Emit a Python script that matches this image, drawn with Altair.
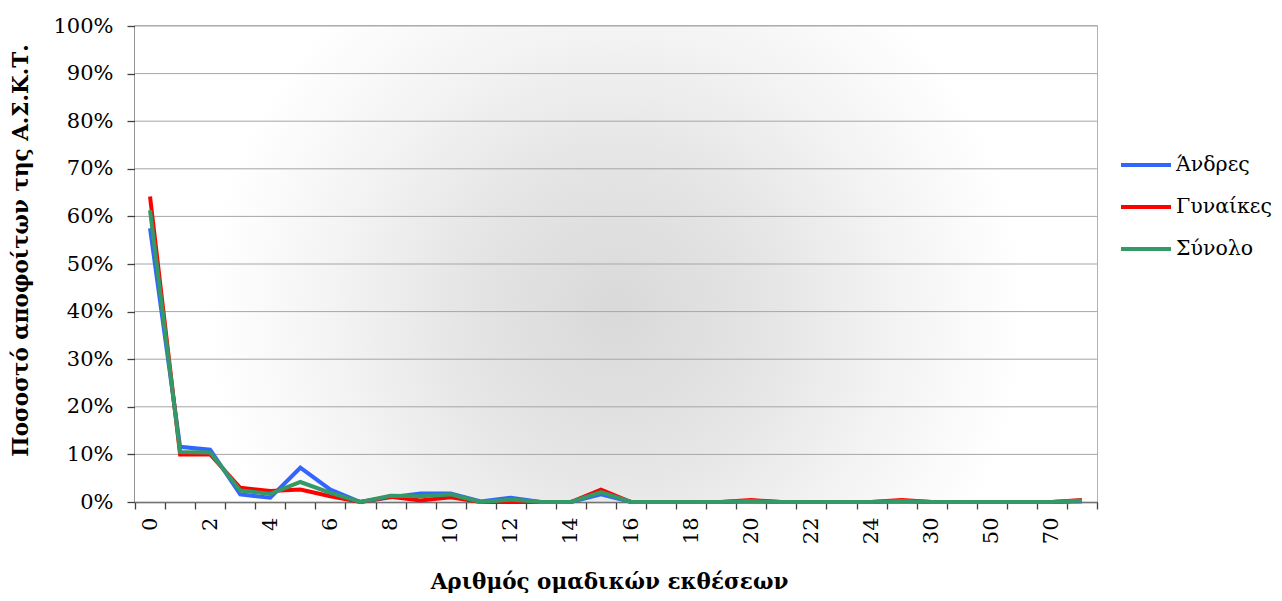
import altair as alt
import pandas as pd

# ---- data ----
categories = ["0", "1", "2", "3", "4", "5", "6", "7", "8", "9", "10", "11", "12",
              "13", "14", "15", "16", "17", "18", "19", "20", "21", "22", "23", "24",
              "25", "30", "40", "50", "60", "70", "80"]
shown_labels = ["0", "2", "4", "6", "8", "10", "12", "14", "16", "18", "20", "22",
                "24", "30", "50", "70"]
series_names = ["Άνδρες", "Γυναίκες", "Σύνολο"]
series_colors = ["#3366ff", "#ff0000", "#339966"]

men = [57.5, 11.6, 11.0, 1.6, 0.9, 7.2, 2.6, 0.0, 1.0, 1.8, 1.8, 0.1, 0.9, 0.0, 0.0, 1.6,
       0.0, 0.0, 0.0, 0.0, 0.1, 0.0, 0.0, 0.0, 0.0, 0.1, 0.0, 0.0, 0.0, 0.0, 0.0, 0.1]
women = [64.2, 10.0, 10.0, 3.0, 2.3, 2.6, 1.2, 0.0, 1.1, 0.3, 1.0, 0.0, 0.0, 0.0, 0.0, 2.6,
         0.0, 0.0, 0.0, 0.0, 0.4, 0.0, 0.0, 0.0, 0.0, 0.4, 0.0, 0.0, 0.0, 0.0, 0.0, 0.4]
total = [61.3, 10.5, 10.4, 2.4, 1.7, 4.2, 1.9, 0.0, 1.3, 1.2, 1.6, 0.0, 0.5, 0.0, 0.0, 2.1,
         0.0, 0.0, 0.0, 0.0, 0.2, 0.0, 0.0, 0.0, 0.0, 0.2, 0.0, 0.0, 0.0, 0.0, 0.0, 0.3]
y_ticks = [0.0, 0.1, 0.2, 0.3, 0.4, 0.5, 0.6, 0.7, 0.8, 0.9, 1.0]

rows = []
for name, vals in zip(series_names, [men, women, total]):
    for c, v in zip(categories, vals):
        rows.append({"cat": c, "series": name, "pct": v})
df = pd.DataFrame(rows)
grid_df = pd.DataFrame({"tick": y_ticks})

FONT = "DejaVu Serif"

bg = alt.Chart(alt.Data(values=[{"a": 1}])).mark_rect(
    color=alt.Gradient(
        gradient="radial",
        stops=[alt.GradientStop(color="#d9d9d9", offset=0),
               alt.GradientStop(color="#e4e4e4", offset=0.3),
               alt.GradientStop(color="#f4f4f4", offset=0.6),
               alt.GradientStop(color="#ffffff", offset=0.85),
               alt.GradientStop(color="#ffffff", offset=1)],
        x1=0.5, y1=0.55, r1=0, x2=0.5, y2=0.55, r2=0.5,
    )
).encode(x=alt.value(0), x2=alt.value("width"), y=alt.value(0), y2=alt.value("height"))

grid = alt.Chart(grid_df).mark_rule(color="#a6a6a6", strokeWidth=1).encode(
    y=alt.Y("tick:Q", scale=alt.Scale(domain=[0, 1]))
)

lines = alt.Chart(df).transform_calculate(
    frac="datum.pct / 100"
).mark_line(strokeWidth=4, strokeJoin="miter").encode(
    x=alt.X("cat:N", sort=categories, scale=alt.Scale(paddingInner=0, paddingOuter=0),
            axis=alt.Axis(
                title="Αριθμός ομαδικών εκθέσεων",
                labelAngle=-90,
                labelExpr="indexof(" + str(shown_labels) + ", datum.label) >= 0 ? datum.label : ''",
                tickBand="extent",
                labelPadding=8,
                tickSize=7,
                titleX=474,
                titleY=86,
                titleBaseline="alphabetic",
            )),
    y=alt.Y("frac:Q", scale=alt.Scale(domain=[0, 1]),
            axis=alt.Axis(title="Ποσοστό αποφοίτων της Α.Σ.Κ.Τ.", values=y_ticks,
                          format=".0%", grid=False, tickSize=8, labelPadding=14,
                          titleX=-114, titleY=224, titleAngle=-90,
                          titleAlign="center", titleBaseline="middle")),
    color=alt.Color("series:N", sort=series_names,
                    scale=alt.Scale(domain=series_names, range=series_colors),
                    legend=alt.Legend(title=None, orient="none", legendX=984, legendY=112,
                                      symbolType="stroke", symbolSize=2500,
                                      symbolStrokeWidth=4, labelFontSize=20.5,
                                      labelFont=FONT, labelOffset=3, rowPadding=4,
                                      labelColor="#000000", labelLimit=200)),
)

chart = alt.layer(bg, grid, lines).properties(
    width=962, height=476,
    autosize=alt.AutoSizeParams(type="none"),
    padding={"left": 127, "top": 18, "right": 177, "bottom": 91},
).configure_view(
    stroke="#999999", strokeWidth=1.5
).configure_axis(
    labelFont=FONT, labelFontSize=21, labelColor="#000000",
    titleFont=FONT, titleFontSize=21.5, titleFontWeight="bold", titleColor="#000000",
    domainColor="#404040", domainWidth=1.5, tickColor="#404040", tickWidth=1.3,
    grid=False,
)

chart.save("out.html", embed_options={"renderer": "svg", "actions": False})
